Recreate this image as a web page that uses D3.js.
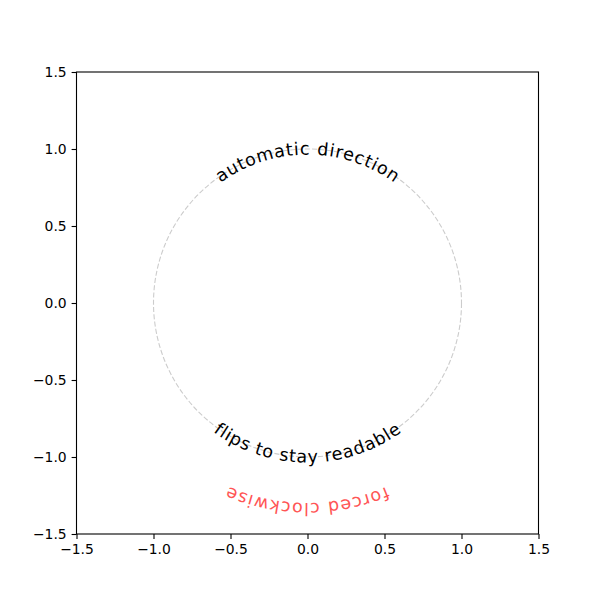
<!DOCTYPE html>
<html>
<head>
<meta charset="utf-8">
<script src="https://cdn.jsdelivr.net/npm/d3@7"></script>
<style>
  html, body { margin: 0; padding: 0; background: #fff; }
  svg { display: block; }
</style>
</head>
<body>
<svg id="chart" width="600" height="600"></svg>
<script>
// ---- data ----
const domainX = [-1.5, 1.5];
const domainY = [-1.5, 1.5];
const tickValues = [-1.5, -1.0, -0.5, 0.0, 0.5, 1.0, 1.5];
const circleRadius = 1.0;
const labelTexts = ["automatic direction", "flips to stay readable", "forced clockwise"];
const labelRadii = [1.0, 1.0, 1.335];
const labelAngles = [90, 270, 270];           // degrees, centre of text
const labelModes = ["ccw-top", "ccw-bottom", "cw"];
const labelColors = ["#000000", "#000000", "#ff5555"];

// ---- style (not data) ----
const labelSpacing = [1.2, 0.5, 1.4];

// ---- layout ----
const svg = d3.select("#chart");
const plotLeft = 76.5, plotRight = 538.5, plotTop = 72, plotBottom = 534;
const x = d3.scaleLinear().domain(domainX).range([plotLeft, plotRight]);
const y = d3.scaleLinear().domain(domainY).range([plotBottom, plotTop]);
const fmt = v => (v < 0 ? "\u2212" : "") + Math.abs(v).toFixed(1);

const font = "DejaVu Sans, sans-serif";

// axes
const xAxis = d3.axisBottom(x).tickValues(tickValues).tickFormat(fmt).tickSize(4.9).tickPadding(4.9);
const yAxis = d3.axisLeft(y).tickValues(tickValues).tickFormat(fmt).tickSize(4.9).tickPadding(4.9);
const gx = svg.append("g").attr("transform", `translate(0,${plotBottom})`).call(xAxis);
const gy = svg.append("g").attr("transform", `translate(${plotLeft},0)`).call(yAxis);
[gx, gy].forEach(g => {
  g.select(".domain").remove();
  g.selectAll("line").attr("stroke", "#000").attr("stroke-width", 1.1);
  g.selectAll("text").attr("font-family", font).attr("font-size", "13.9px").attr("fill", "#000");
});

// frame
svg.append("rect")
  .attr("x", plotLeft).attr("y", plotTop)
  .attr("width", plotRight - plotLeft).attr("height", plotBottom - plotTop)
  .attr("fill", "none").attr("stroke", "#000").attr("stroke-width", 1.1);

// circle
const cx = x(0), cy = y(0);
const pxPerUnit = x(1) - x(0);
svg.append("circle")
  .attr("cx", cx).attr("cy", cy)
  .attr("r", pxPerUnit * circleRadius)
  .attr("fill", "none")
  .attr("stroke", "#cccccc")
  .attr("stroke-width", 1.1)
  .attr("stroke-dasharray", "5.1,2.2");

// curved labels
const defs = svg.append("defs");
labelTexts.forEach((txt, i) => {
  const R = pxPerUnit * labelRadii[i];
  const mode = labelModes[i];
  const a = labelAngles[i] * Math.PI / 180;
  const p = ang => [cx + R * Math.cos(ang), cy - R * Math.sin(ang)];
  let d;
  if (mode === "ccw-top") {
    const s = p(a + Math.PI / 2), e = p(a - Math.PI / 2);
    d = `M${s[0]},${s[1]} A${R},${R} 0 0 1 ${e[0]},${e[1]}`;
  } else if (mode === "ccw-bottom") {
    const s = p(a - Math.PI / 2), e = p(a + Math.PI / 2);
    d = `M${s[0]},${s[1]} A${R},${R} 0 0 0 ${e[0]},${e[1]}`;
  } else {
    const s = p(a + Math.PI / 2), e = p(a - Math.PI / 2);
    d = `M${s[0]},${s[1]} A${R},${R} 0 0 1 ${e[0]},${e[1]}`;
  }
  const id = "arc" + i;
  defs.append("path").attr("id", id).attr("d", d);
  const sp = labelSpacing[i];
  svg.append("text")
    .attr("font-family", font)
    .attr("font-size", "17.5px")
    .attr("fill", labelColors[i])
    .attr("dy", "0.32em")
    .attr("letter-spacing", sp)
    .append("textPath")
    .attr("href", "#" + id)
    .attr("startOffset", `calc(50% + ${sp / 2}px)`)
    .attr("text-anchor", "middle")
    .text(txt);
});
</script>
</body>
</html>
